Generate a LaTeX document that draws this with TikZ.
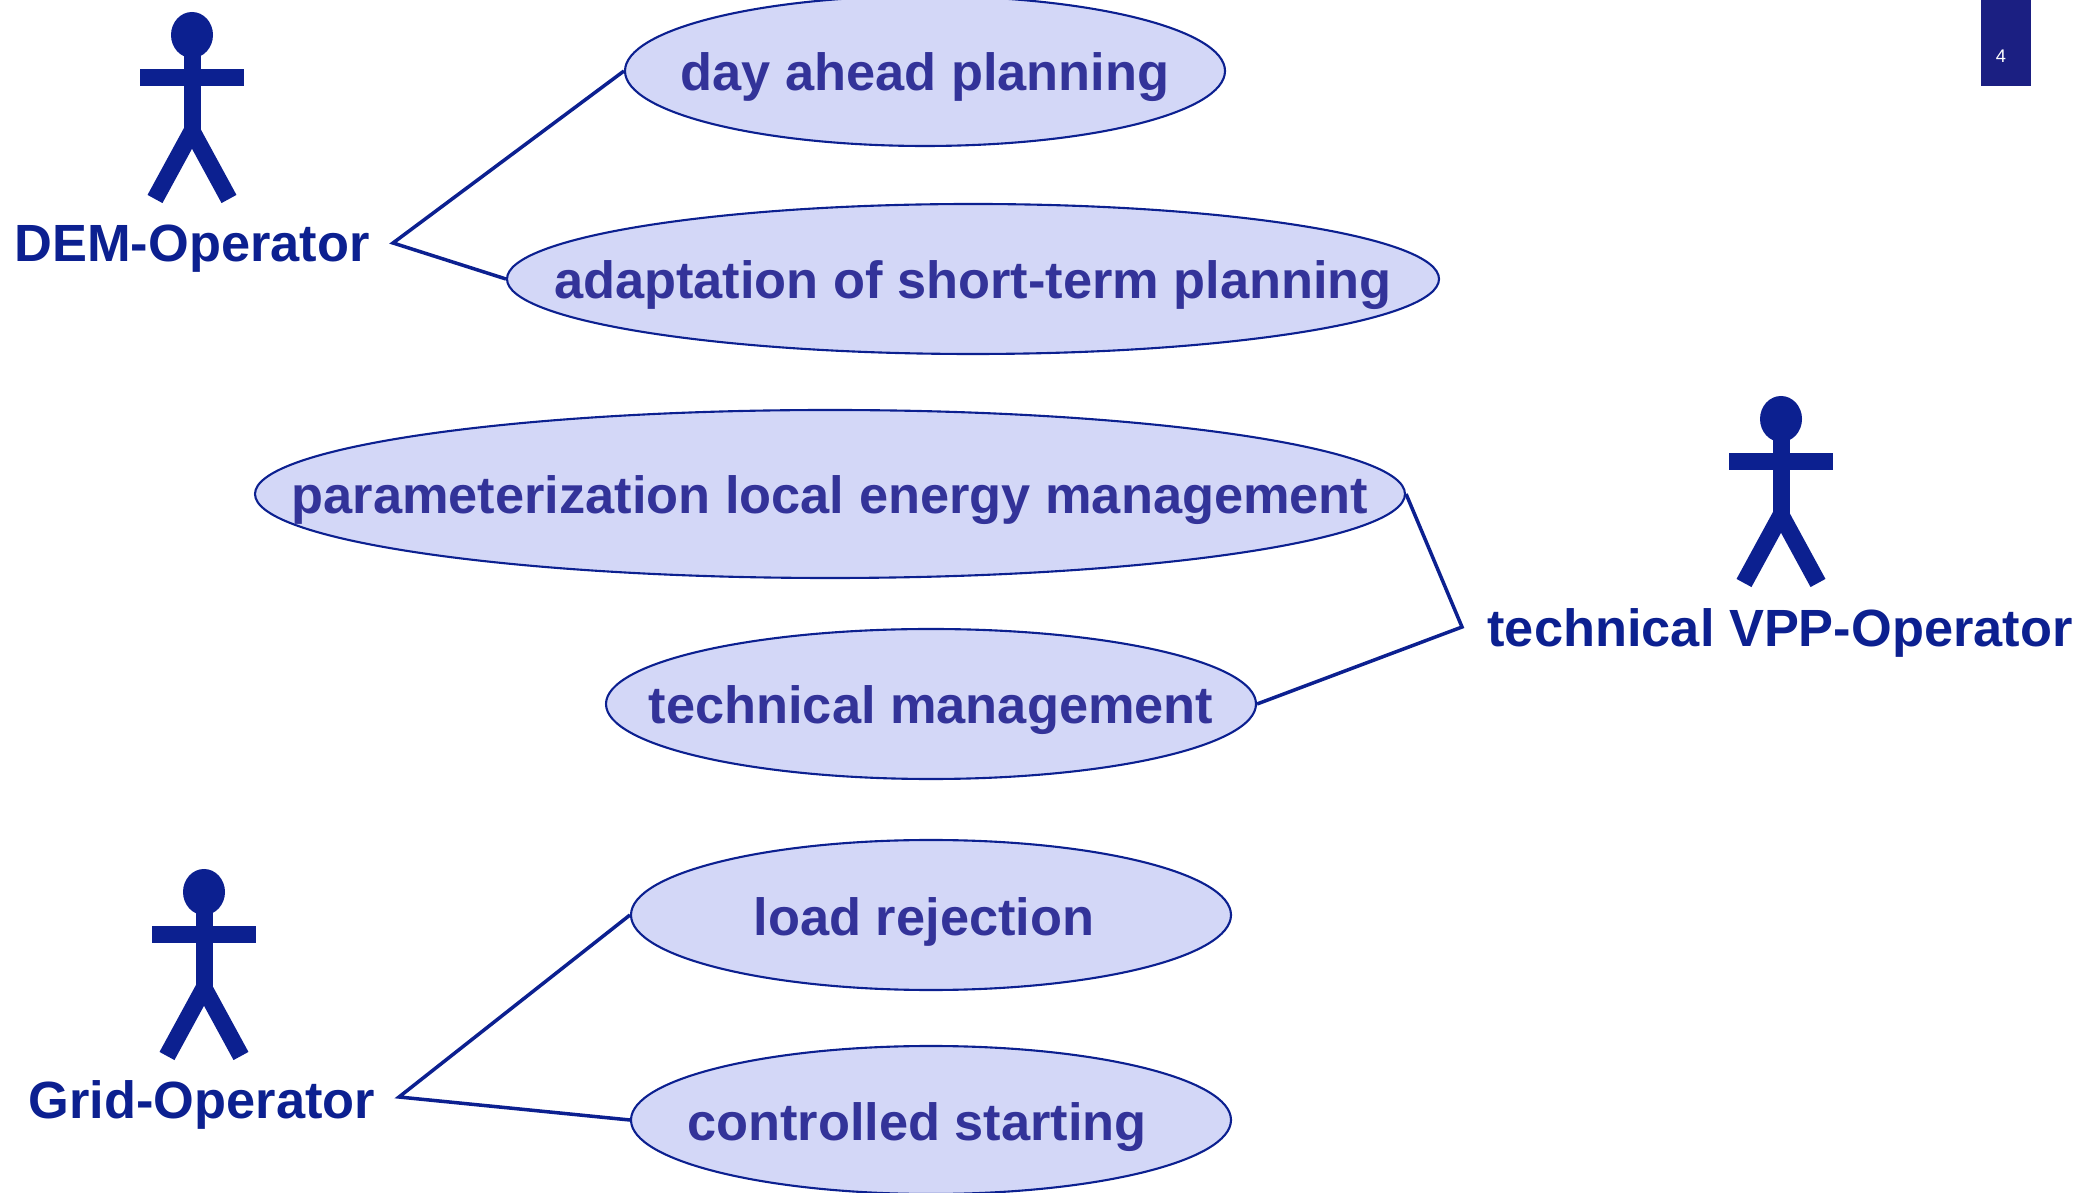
\documentclass[tikz,border=0pt]{standalone}
\usepackage{fontspec}
\setmainfont{Liberation Sans}
\usetikzlibrary{shapes.geometric}

\definecolor{actorblue}{RGB}{12,32,144}
\definecolor{ucblue}{RGB}{51,51,153}
\definecolor{ucfill}{RGB}{211,215,247}
\definecolor{boxblue}{RGB}{27,31,130}

\begin{document}
\begin{tikzpicture}[
    usecase/.style={ellipse, draw=actorblue, line width=0.6pt, fill=ucfill,
        inner sep=0pt, text=ucblue, font=\fontsize{14.9}{18}\selectfont\bfseries,
        text height=0.42cm, text depth=0.02cm},
    role/.style={text=actorblue, font=\fontsize{14.9}{18}\selectfont\bfseries,
        anchor=base, inner sep=0pt},
    edge/.style={draw=actorblue, line width=1pt},
    actor/.pic={
        \fill[actorblue] (0,0) ellipse [x radius=0.21, y radius=0.23];
        \fill[actorblue] (-0.085,-0.2) rectangle (0.085,-0.98);
        \fill[actorblue] (-0.52,-0.34) rectangle (0.52,-0.51);
        \draw[actorblue, line width=0.17cm] (0,-0.96) -- (-0.37,-1.64);
        \draw[actorblue, line width=0.17cm] (0,-0.96) -- (0.37,-1.64);
    }
]
    \useasboundingbox (0,0) rectangle (20.96,11.92);

    % page number
    \fill[boxblue] (19.81,11.06) rectangle (20.31,11.92);
    \node[text=white, font=\fontsize{5.2}{6}\selectfont] (pagenum) at (20.01,11.36) {4};

    % use cases
    \node[usecase, minimum width=6.00cm, minimum height=1.50cm] (day) at (9.25,11.21) {\makebox[0pt]{day ahead planning}};
    \node[usecase, minimum width=9.32cm, minimum height=1.50cm] (adapt) at (9.73,9.13) {\makebox[0pt]{adaptation of short-term planning}};
    \node[usecase, minimum width=11.50cm, minimum height=1.68cm] (param) at (8.30,6.98) {\makebox[0pt]{parameterization local energy management}};
    \node[usecase, minimum width=6.50cm, minimum height=1.50cm] (techman) at (9.31,4.88) {\makebox[0pt]{technical management}};
    \node[usecase, minimum width=6.00cm, minimum height=1.50cm] (load) at (9.31,2.77) {\makebox[0pt]{\kern-0.14cm load rejection}};
    \node[usecase, minimum width=6.00cm, minimum height=1.48cm] (start) at (9.31,0.72) {\makebox[0pt]{\kern-0.28cm controlled starting}};

    % actors
    \pic at (1.92,11.57) {actor};
    \node[role] (dem) at (1.92,9.30) {DEM-Operator};
    \pic at (17.81,7.73) {actor};
    \node[role] (vpp) at (17.80,5.45) {technical VPP-Operator};
    \pic at (2.04,3.00) {actor};
    \node[role] (grid) at (2.02,0.74) {Grid-Operator};

    % associations
    \coordinate (demjoin) at (3.93,9.49);
    \coordinate (vppjoin) at (14.62,5.65);
    \coordinate (gridjoin) at (3.99,0.95);
    \draw[edge] (day.west) -- (demjoin) -- (adapt.west);
    \draw[edge] (param.east) -- (vppjoin) -- (techman.east);
    \draw[edge] (load.west) -- (gridjoin) -- (start.west);
\end{tikzpicture}
\end{document}
